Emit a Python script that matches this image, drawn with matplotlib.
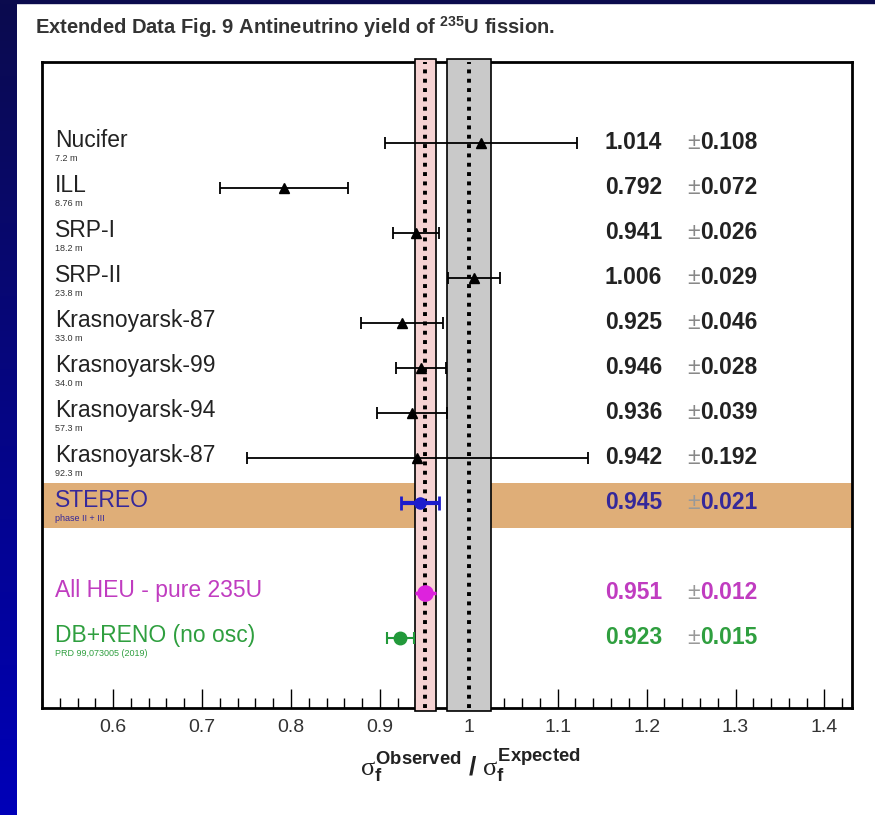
import matplotlib

matplotlib.use("Agg")
import matplotlib.pyplot as plt
import numpy as np
from matplotlib.colors import LinearSegmentedColormap
from matplotlib.patches import Rectangle
from matplotlib.ticker import FuncFormatter, MultipleLocator

# reactor experiments (235U fission yield ratio)
names = ["Nucifer", "ILL", "SRP-I", "SRP-II", "Krasnoyarsk-87",
         "Krasnoyarsk-99", "Krasnoyarsk-94", "Krasnoyarsk-87"]
distances = ["7.2 m", "8.76 m", "18.2 m", "23.8 m", "33.0 m",
             "34.0 m", "57.3 m", "92.3 m"]
ratios = [1.014, 0.792, 0.941, 1.006, 0.925, 0.946, 0.936, 0.942]
errors = [0.108, 0.072, 0.026, 0.029, 0.046, 0.028, 0.039, 0.192]

# combined results
summary_names = ["STEREO", "All HEU - pure 235U", "DB+RENO (no osc)"]
summary_notes = ["phase II + III", "", "PRD 99,073005 (2019)"]
summary_ratios = [0.945, 0.951, 0.923]
summary_errors = [0.021, 0.012, 0.015]

heu_mean, heu_err = 0.951, 0.012
model_mean, model_err = 1.0, 0.025

plt.rcParams["font.family"] = ["Liberation Sans", "DejaVu Sans"]
plt.rcParams["mathtext.fontset"] = "custom"
plt.rcParams["mathtext.it"] = "Liberation Serif"
plt.rcParams["mathtext.rm"] = "Liberation Serif"
plt.rcParams["mathtext.bf"] = "Liberation Sans:bold"

W, H = 875, 815
fig = plt.figure(figsize=(W / 100, H / 100), dpi=100)
fig.patch.set_facecolor("white")

# slide border: blue strip on the left and thin line on top
navy = LinearSegmentedColormap.from_list("navy", ["#0b0b4e", "#0000b8"])
bg = fig.add_axes([0, 0, 17 / W, 1])
bg.imshow(np.linspace(0, 1, 256)[:, None], aspect="auto", cmap=navy)
bg.set_axis_off()
fig.add_artist(Rectangle((0, 1 - 3 / H), 1, 3 / H, transform=fig.transFigure,
                         color="#0b0b4e", zorder=5))

ax = fig.add_axes([42 / W, 1 - 708 / H, 810 / W, 646 / H])

n = len(names)
rows = np.arange(n)
sum_rows = np.array([n, n + 2, n + 3])

# STEREO highlight band
ax.axhspan(sum_rows[0] - 0.45, sum_rows[0] + 0.55, color="#dfae78", lw=0, zorder=0.5)
ax.axvspan(heu_mean + heu_err, model_mean - model_err, color="white", lw=0, zorder=0.8)

# reference bands
ax.axvspan(heu_mean - heu_err, heu_mean + heu_err, ymin=-0.004, ymax=1.004,
           fc="#f6d3d3", ec="black", lw=1.2, zorder=3, clip_on=False)
ax.axvspan(model_mean - model_err, model_mean + model_err, ymin=-0.004, ymax=1.004,
           fc="#c9c9c9", ec="black", lw=1.2, zorder=3, clip_on=False)
for m in (heu_mean, model_mean):
    ax.axvline(m, color="black", ls=(0, (1, 1.4)), lw=2.8, zorder=3.5)

ax.errorbar(ratios, rows, xerr=errors, fmt="^", color="black", ms=7,
            lw=1.3, capsize=4, capthick=1.3, zorder=5)

sum_colors = ["#1c1ccc", "#dd22dd", "#22993a"]
text_colors = ["#35289a", "#c03cc0", "#2f9f3f"]
styles = [dict(ms=8, lw=3, capsize=5, capthick=2),
          dict(ms=11, lw=2.5, capsize=0),
          dict(ms=9, lw=1.5, capsize=4, capthick=1.5)]
for r, v, e, c, st in zip(sum_rows, summary_ratios, summary_errors, sum_colors, styles):
    ax.errorbar([v], [r], xerr=[e], fmt="o", color=c, zorder=5, **st)

lab = ax.get_yaxis_transform()
x_name, x_val, x_pm = 0.016, 0.695, 0.796
fs = 16.5
for r, name, d, v, e in zip(rows, names, distances, ratios, errors):
    ax.text(x_name, r - 0.05, name, transform=lab, fontsize=fs, va="center", color="#222222")
    ax.text(x_name, r + 0.35, d, transform=lab, fontsize=6.5, va="center", color="#333333")
    ax.text(x_val, r, f"{v:.3f}", transform=lab, fontsize=fs, fontweight="bold",
            va="center", color="#222222")
    ax.text(x_pm, r, "\u00b1", transform=lab, fontsize=fs, va="center", color="#888888")
    ax.text(x_pm + 0.017, r, f"{e:.3f}", transform=lab, fontsize=fs, fontweight="bold",
            va="center", color="#222222")

for r, name, note, v, e, c in zip(sum_rows, summary_names, summary_notes,
                                  summary_ratios, summary_errors, text_colors):
    ax.text(x_name, r - 0.05, name, transform=lab, fontsize=fs, va="center", color=c)
    if note:
        ax.text(x_name, r + 0.35, note, transform=lab, fontsize=6.5, va="center", color=c)
    ax.text(x_val, r, f"{v:.3f}", transform=lab, fontsize=fs, fontweight="bold",
            va="center", color=c)
    ax.text(x_pm, r, "\u00b1", transform=lab, fontsize=fs, va="center", color="#999999")
    ax.text(x_pm + 0.017, r, f"{e:.3f}", transform=lab, fontsize=fs, fontweight="bold",
            va="center", color=c)

ax.set_xlim(0.52, 1.431)
ax.set_ylim(n + 4.56, -1.8)
ax.xaxis.set_major_locator(MultipleLocator(0.1))
ax.xaxis.set_minor_locator(MultipleLocator(0.02))
ax.xaxis.set_major_formatter(FuncFormatter(lambda x, _: f"{x:g}"))
ax.tick_params(axis="x", which="major", direction="in", length=14, width=1,
               labelsize=14, pad=8, labelcolor="#333333")
ax.tick_params(axis="x", which="minor", direction="in", length=7, width=1)
ax.tick_params(axis="y", left=False, labelleft=False)
for s in ax.spines.values():
    s.set_linewidth(2)

fig.text(470 / W, 1 - 765 / H,
         r"$\sigma_{\mathbf{f}}^{\mathbf{Observed}}\ \mathbf{/}\ \sigma_{\mathbf{f}}^{\mathbf{Expected}}$",
         fontsize=19, ha="center", va="center", color="#222222")
fig.text(35 / W, 1 - 27 / H,
         r"Extended Data Fig. 9 Antineutrino yield of $^{\mathbf{235}}$U fission.",
         family=["Liberation Sans Narrow", "Liberation Sans"], fontsize=14.5,
         fontweight="bold", ha="left", va="center", color="#333333")

fig.savefig("out.png", dpi=100)
